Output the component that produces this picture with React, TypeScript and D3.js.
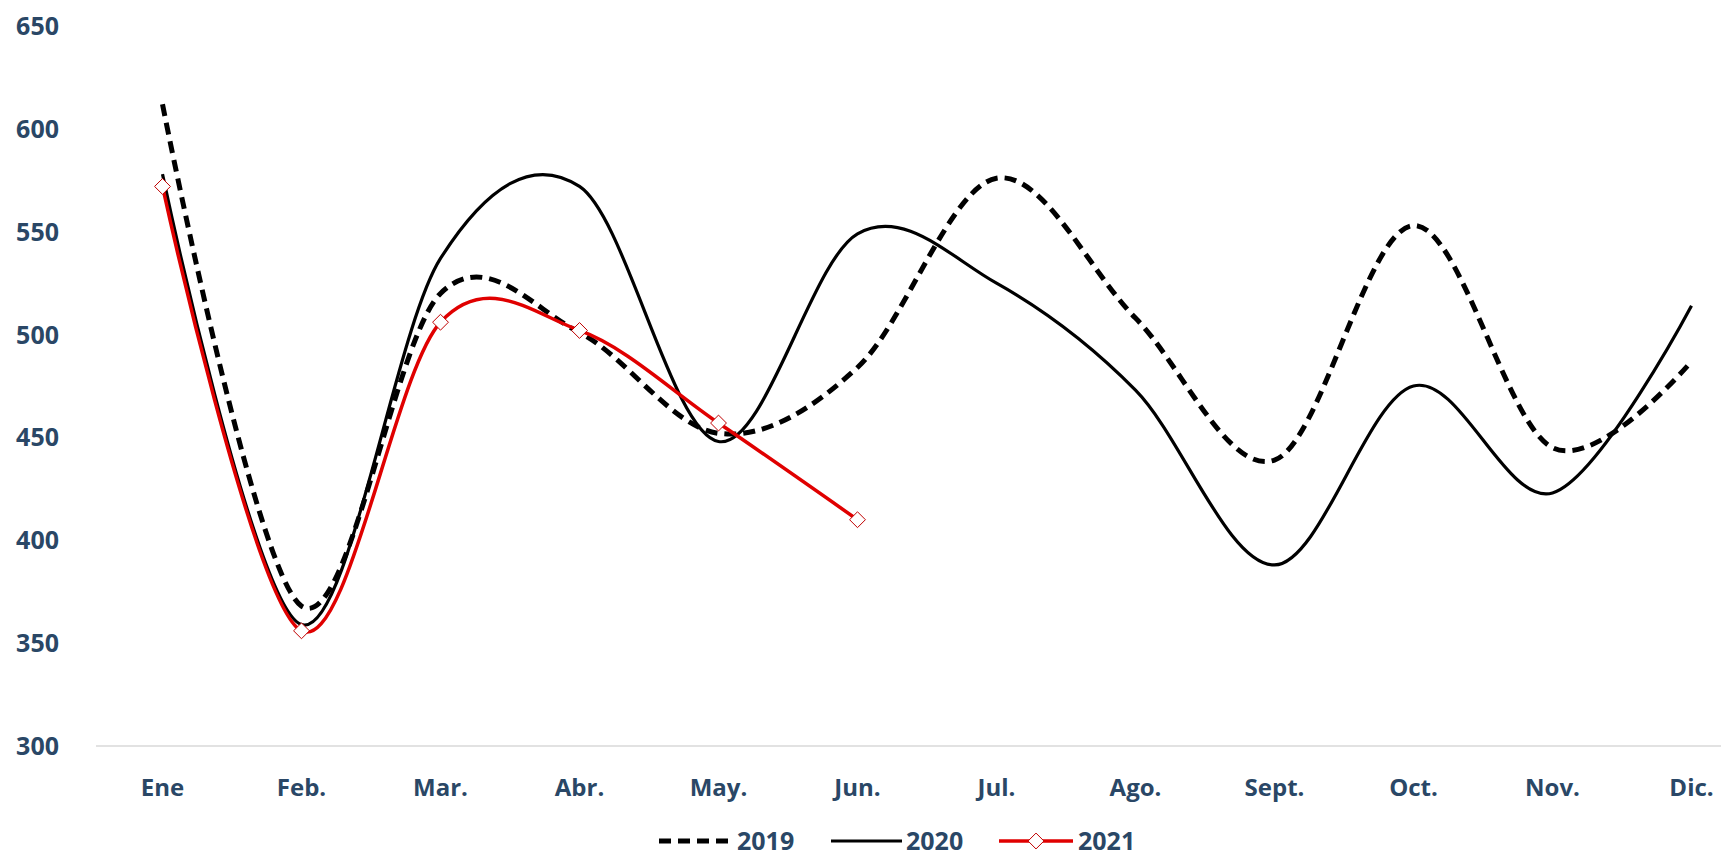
import * as d3 from 'd3';

const months = ['Ene', 'Feb.', 'Mar.', 'Abr.', 'May.', 'Jun.', 'Jul.', 'Ago.', 'Sept.', 'Oct.', 'Nov.', 'Dic.'];
const y2019 = [612, 368, 520, 501, 452, 484, 576, 508, 439, 553, 445, 487];
const y2020 = [578, 359, 537, 572, 448, 549, 525, 473, 388, 475, 423, 514];
const y2021 = [572, 356, 506, 502, 457, 410];
const yTicks = [300, 350, 400, 450, 500, 550, 600, 650];

const W = 1721;
const H = 860;
const LABEL = '#2A4766';
const RED = '#E00000';
const FONT = 'Open Sans';
const LEG_Y = 841;

export default function App() {
  const x = d3.scalePoint<string>().domain(months).range([162.5, 1691.5]);
  const y = d3.scaleLinear().domain([300, 650]).range([746, 26]);

  const line = d3
    .line<number>()
    .x((_, i) => x(months[i]) as number)
    .y((d) => y(d))
    .curve(d3.curveCardinal.tension(0));

  const diamond = d3.symbol().type(d3.symbolDiamond2).size(160)();

  return (
    <svg
      width={W}
      height={H}
      style={{ position: 'absolute', left: 0, top: 0, background: '#fff' }}
    >
      {/* y labels */}
      {yTicks.map((t) => (
        <text
          key={t}
          x={59}
          y={y(t)}
          dy="0.36em"
          textAnchor="end"
          fill={LABEL}
          fontFamily={FONT}
          fontWeight="bold"
          fontSize={25}
        >
          {t}
        </text>
      ))}

      {/* baseline */}
      <line x1={96} x2={W} y1={y(300)} y2={y(300)} stroke="#D9D9D9" strokeWidth={1.5} />

      {/* x labels */}
      {months.map((m) => (
        <text
          key={m}
          x={x(m)}
          y={787}
          dy="0.36em"
          textAnchor="middle"
          fill={LABEL}
          fontFamily={FONT}
          fontWeight="bold"
          fontSize={24}
        >
          {m}
        </text>
      ))}

      <path d={line(y2019) ?? ''} fill="none" stroke="#000" strokeWidth={5} strokeDasharray="12,7" />
      <path d={line(y2020) ?? ''} fill="none" stroke="#000" strokeWidth={3.2} />
      <path d={line(y2021) ?? ''} fill="none" stroke={RED} strokeWidth={3.5} />
      {y2021.map((v, i) => (
        <path
          key={i}
          d={diamond ?? ''}
          transform={`translate(${x(months[i])},${y(v)})`}
          fill="#fff"
          stroke="#C00000"
          strokeWidth={1}
        />
      ))}

      {/* legend */}
      <g fontFamily={FONT} fontWeight="bold" fontSize={25} fill={LABEL}>
        <line x1={659} x2={733} y1={LEG_Y} y2={LEG_Y} stroke="#000" strokeWidth={5} strokeDasharray="12,7" />
        <text x={737} y={LEG_Y} dy="0.36em">2019</text>
        <line x1={831} x2={902} y1={LEG_Y} y2={LEG_Y} stroke="#000" strokeWidth={3.2} />
        <text x={906} y={LEG_Y} dy="0.36em">2020</text>
        <line x1={999} x2={1073} y1={LEG_Y} y2={LEG_Y} stroke={RED} strokeWidth={3.5} />
        <path d={diamond ?? ''} transform={`translate(1036,${LEG_Y})`} fill="#fff" stroke="#C00000" strokeWidth={1} />
        <text x={1078} y={LEG_Y} dy="0.36em">2021</text>
      </g>
    </svg>
  );
}
